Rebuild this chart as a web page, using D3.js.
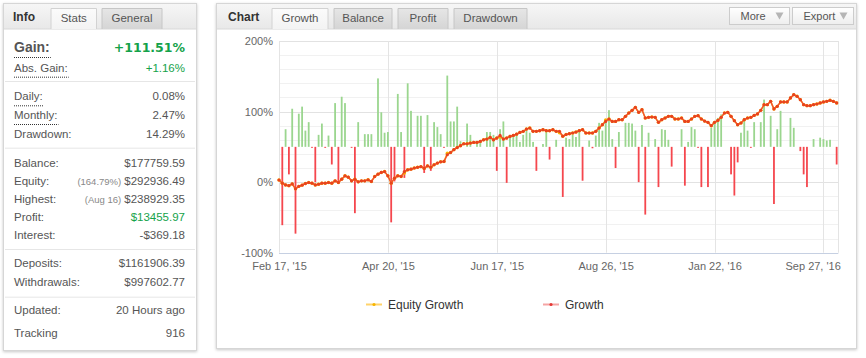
<!DOCTYPE html>
<html>
<head>
<meta charset="utf-8">
<script src="https://cdn.jsdelivr.net/npm/d3@7"></script>
<style>
  body { margin: 0; background: #fff; }
  svg text { font-family: "Liberation Sans", Arial, sans-serif; }
</style>
</head>
<body>
<div id="chart"></div>
<script>
// ---- stats panel ----
const statLabels = ["Gain:", "Abs. Gain:", "Daily:", "Monthly:", "Drawdown:", "Balance:", "Equity:", "Highest:",
  "Profit:", "Interest:", "Deposits:", "Withdrawals:", "Updated:", "Tracking"];
const statValues = ["+111.51%", "+1.16%", "0.08%", "2.47%", "14.29%", "$177759.59", "$292936.49", "$238929.35",
  "$13455.97", "-$369.18", "$1161906.39", "$997602.77", "20 Hours ago", "916"];
const statNotes = ["", "", "", "", "", "", "(164.79%)", "(Aug 16)", "", "", "", "", "", ""];
const infoTabs = ["Stats", "General"];

// ---- chart ----
const chartTabs = ["Growth", "Balance", "Profit", "Drawdown"];
const chartButtons = ["More", "Export"];
const xTickSlots = [0, 33, 66, 99, 132, 165];
const xTickLabels = ["Feb 17, '15", "Apr 20, '15", "Jun 17, '15", "Aug 26, '15", "Jan 22, '16", "Sep 27, '16"];
const yTicks = [-100, 0, 100, 200];
const seriesNames = ["Equity Growth", "Growth"];

// growth (%) per trade slot
const growth = [
  3, -1.5, -4, -5, -2.5, -9.5, -6, -4.3, -2, -0.5,
  -1.5, -4, -3, -1.5, -1.5, -0.5, -1.5, 1.8, -0.5, 4.2,
  9, 7, 1.8, 4.2, 0.4, 1.8, 1.8, 3.3, 1, 8,
  11.3, 13.7, 15, 9, -1.5, 5.6, 9, 8, 15, 17.5,
  18.4, 20, 21, 22, 19.4, 23, 21, 24.6, 27, 28.8,
  29.3, 38.8, 42, 46, 49, 51.6, 54.4, 54.4, 55.4, 56.3,
  56.3, 57.7, 60, 61, 63.4, 60, 62.5, 66.2, 61, 62.5,
  64.8, 66.2, 68, 70.5, 72, 75.2, 76.7, 72, 72, 72.9,
  74.3, 72.9, 72.9, 74.3, 72, 72, 65, 67.5, 68.6, 69.6,
  71, 72.9, 74.3, 69.6, 69.6, 69.6, 72, 76.7, 81.4, 86.1,
  89.5, 86.1, 86.1, 88.5, 88.5, 93.2, 98, 101.7, 106, 98.9,
  102.7, 90.9, 91.8, 92.3, 91.8, 84.8, 88.5, 90.9, 93.2, 93.2,
  89.5, 89.5, 90.9, 86.1, 86.1, 89.5, 93.2, 94.2, 89.5, 86.5,
  84.7, 80, 84.7, 87.5, 91.8, 98, 98.9, 93.2, 87.1, 81.4,
  83.8, 88.5, 90.9, 91.8, 94.6, 96.6, 101.7, 109.8, 109.8, 114.5,
  103.7, 107.4, 113.6, 113.6, 113.6, 119.3, 124, 121.6, 116.9, 109.8,
  108.4, 108.4, 109.8, 110.7, 112.2, 113.6, 114.5, 116, 114.5, 112.2
];
// equity growth: slots where it differs from growth
const equityDiff = [[38, 13], [51, 41], [67, 64], [85, 70], [99, 88]];
// daily result bars [slot, value]
const dailyBars = [
  [1, -111], [2, 25], [3, -39], [4, 54], [5, -123], [6, 47], [7, 57], [8, 23], [9, 35], [10, -1],
  [11, -50], [12, 17], [13, 33], [14, -1], [15, 16], [16, -25], [17, 62], [18, -52], [19, 71], [20, 62],
  [22, -1], [23, -94], [24, 35], [26, 18], [27, 18], [28, 18], [30, 97], [31, 49], [32, 20], [33, 21],
  [34, -107], [35, -49], [36, 75], [37, 21], [38, -44], [39, 90], [40, 51], [42, 44], [43, 44], [44, -37],
  [45, 45], [46, -34], [47, 35], [48, 28], [49, 18], [50, -1], [51, 101], [52, 36], [53, 36], [54, 57],
  [55, 8], [57, 33], [58, 17], [60, 6], [61, 6], [63, 21], [64, 21], [65, 17], [66, -34], [67, 25],
  [68, 36], [69, -51], [70, 17], [71, 17], [72, 17], [73, 7], [74, 17], [75, 23], [76, 20], [77, 7],
  [78, -34], [80, 4], [81, 25], [82, -18], [84, 10], [86, -71], [87, 13], [88, 11], [89, 17], [90, 14],
  [91, 21], [92, -48], [94, 9], [95, -2], [96, 16], [97, 34], [98, 23], [99, 36], [100, 52], [101, 11],
  [102, -30], [103, 21], [105, 34], [106, 34], [107, 33], [108, 23], [109, -50], [110, 31], [111, -96], [112, 20],
  [114, 11], [115, -57], [116, 25], [117, 24], [118, 10], [119, -28], [122, 25], [123, -55], [124, 7], [125, 28],
  [126, 25], [127, -1], [128, -57], [130, -57], [131, 27], [132, 34], [133, 41], [134, 46], [137, -39], [138, -69],
  [139, -22], [140, 20], [141, 41], [142, 23], [143, -1], [144, 35], [146, 35], [147, 67], [149, 44], [150, -81],
  [151, 25], [152, 51], [155, 41], [156, 27], [158, -6], [159, -39], [160, -57], [162, 11], [164, 13], [165, 11],
  [166, 9], [167, 10], [169, -25]
];

const svg = d3.select("#chart").append("svg")
    .attr("width", 866)
    .attr("height", 358);

const defs = svg.append("defs");
const shadow = defs.append("filter").attr("id", "shadow")
    .attr("x", "-5%").attr("y", "-5%").attr("width", "110%").attr("height", "110%");
shadow.append("feDropShadow")
    .attr("dx", 0).attr("dy", 1).attr("stdDeviation", 1.5)
    .attr("flood-color", "#000").attr("flood-opacity", 0.22);

function grad(id, top, bottom) {
    const g = defs.append("linearGradient").attr("id", id)
        .attr("x1", 0).attr("y1", 0).attr("x2", 0).attr("y2", 1);
    g.append("stop").attr("offset", "0%").attr("stop-color", top);
    g.append("stop").attr("offset", "100%").attr("stop-color", bottom);
}
grad("hdr", "#f6f6f6", "#e8e8e8");
grad("tabOff", "#e6e6e6", "#d5d5d5");
grad("tabOn", "#fbfbfb", "#f3f3f3");
grad("btn", "#ffffff", "#eeeeee");

// tab strip helper
function drawTab(g, x0, x1, label, active) {
    g.append("path")
        .attr("d", `M${x0},29 V8.5 H${x1} V29`)
        .attr("fill", active ? "url(#tabOn)" : "url(#tabOff)")
        .attr("stroke", active ? "#d2d2d2" : "#c6c6c6");
    g.append("text")
        .attr("x", (x0 + x1) / 2).attr("y", 21.5)
        .attr("text-anchor", "middle")
        .style("font-size", "11.5px")
        .attr("fill", "#555")
        .text(label);
}

// ================= left info panel =================
const info = svg.append("g");
info.append("rect")
    .attr("x", 3.5).attr("y", 3.5).attr("width", 193).attr("height", 347)
    .attr("fill", "#fff").attr("stroke", "#d6d6d6")
    .attr("filter", "url(#shadow)");
info.append("rect")
    .attr("x", 4).attr("y", 4).attr("width", 192).attr("height", 25)
    .attr("fill", "url(#hdr)");
info.append("line")
    .attr("x1", 4).attr("x2", 196).attr("y1", 29).attr("y2", 29)
    .attr("stroke", "#d8d8d8");
info.append("text")
    .attr("x", 13).attr("y", 20.5)
    .style("font-size", "12px").style("font-weight", "bold")
    .attr("fill", "#333")
    .text("Info");
const infoTabX = [[51, 96.5], [102, 162]];
infoTabs.forEach((t, i) => drawTab(info, infoTabX[i][0], infoTabX[i][1], t, i === 0));

const rowY = [52, 71.7, 100.3, 119, 137.7, 166.7, 184.7, 202.7, 220.7, 238.7, 267.3, 285.7, 314.3, 337.3];
const greenRows = new Set(["Gain:", "Abs. Gain:", "Profit:"]);
const dottedRows = new Set(["Gain:", "Abs. Gain:", "Daily:", "Monthly:"]);

[81, 147.7, 249, 296.7].forEach(yy => {
    info.append("line")
        .attr("x1", 5).attr("x2", 195).attr("y1", yy + 0.5).attr("y2", yy + 0.5)
        .attr("stroke", "#e6e6e6");
});

statLabels.forEach((lab, i) => {
    const big = i === 0;
    const lt = info.append("text")
        .attr("x", 14).attr("y", rowY[i])
        .style("font-size", big ? "14px" : "11.5px")
        .style("font-weight", big ? "bold" : "normal")
        .attr("fill", "#555")
        .text(lab);
    if (dottedRows.has(lab)) {
        const w = lt.node().getComputedTextLength();
        info.append("line")
            .attr("x1", 14).attr("x2", 14 + w + 1)
            .attr("y1", rowY[i] + 5.5).attr("y2", rowY[i] + 5.5)
            .attr("stroke", "#333").attr("stroke-dasharray", "1,1");
    }
    const vt = info.append("text")
        .attr("x", 185).attr("y", rowY[i])
        .attr("text-anchor", "end")
        .style("font-family", big ? "'DejaVu Sans', sans-serif" : null)
        .style("font-size", big ? "12.5px" : "11.5px")
        .style("font-weight", big ? "bold" : "normal")
        .attr("fill", greenRows.has(lab) ? "#14a24a" : "#555")
        .text(statValues[i]);
    if (statNotes[i]) {
        const w = vt.node().getComputedTextLength();
        info.append("text")
            .attr("x", 185 - w - 3).attr("y", rowY[i])
            .attr("text-anchor", "end")
            .style("font-size", "9.5px")
            .attr("fill", "#888")
            .text(statNotes[i]);
    }
});

// ================= chart panel =================
const panel = svg.append("g");
panel.append("rect")
    .attr("x", 216.5).attr("y", 3.5).attr("width", 640).attr("height", 345)
    .attr("fill", "#fff").attr("stroke", "#d6d6d6")
    .attr("filter", "url(#shadow)");
panel.append("rect")
    .attr("x", 217).attr("y", 4).attr("width", 639).attr("height", 25)
    .attr("fill", "url(#hdr)");
panel.append("line")
    .attr("x1", 217).attr("x2", 856).attr("y1", 29).attr("y2", 29)
    .attr("stroke", "#d8d8d8");
panel.append("text")
    .attr("x", 228).attr("y", 20.5)
    .style("font-size", "12px").style("font-weight", "bold")
    .attr("fill", "#333")
    .text("Chart");
const chartTabX = [[272, 328], [334, 392], [398, 448], [454, 527]];
chartTabs.forEach((t, i) => drawTab(panel, chartTabX[i][0], chartTabX[i][1], t, i === 0));

const btnX = [[729.5, 789.5], [792.5, 853.5]];
chartButtons.forEach((b, i) => {
    const [x0, x1] = btnX[i];
    panel.append("rect")
        .attr("x", x0).attr("y", 7.5).attr("width", x1 - x0).attr("height", 17)
        .attr("fill", "url(#btn)").attr("stroke", "#cccccc");
    panel.append("text")
        .attr("x", x0 + 11).attr("y", 20)
        .style("font-size", "11px")
        .attr("fill", "#555")
        .text(b);
    panel.append("path")
        .attr("d", `M${x1 - 14},12.5 h8 l-4,7 z`)
        .attr("fill", "#b5b5b5");
});

// ---- plot ----
const plotL = 279, plotR = 838.3, plotT = 41, plotB = 252.7;
const x = d3.scaleLinear().domain([0, 169.5]).range([plotL, plotR]);
const y = d3.scaleLinear().domain([-100, 200]).range([plotB, plotT]);
const yBar = d3.scaleLinear().domain([-150, 150]).range([plotB, plotT]);

const plot = svg.append("g");

// horizontal grid, 20% steps
plot.selectAll(".hgrid")
    .data(d3.range(-80, 201, 20))
    .enter().append("line")
        .attr("class", "hgrid")
        .attr("x1", plotL).attr("x2", plotR)
        .attr("y1", d => Math.round(y(d)) + 0.5).attr("y2", d => Math.round(y(d)) + 0.5)
        .attr("stroke", d => d % 100 === 0 ? "#e2e2e2" : "#f1f1f1");

// vertical grid at ticks + right border
plot.selectAll(".vgrid")
    .data(xTickSlots.concat([169.5]))
    .enter().append("line")
        .attr("class", "vgrid")
        .attr("x1", d => Math.round(x(d)) + 0.5).attr("x2", d => Math.round(x(d)) + 0.5)
        .attr("y1", plotT).attr("y2", plotB)
        .attr("stroke", "#e4e4e4");

// x axis line
plot.append("line")
    .attr("x1", plotL).attr("x2", plotR)
    .attr("y1", Math.round(plotB) + 0.5).attr("y2", Math.round(plotB) + 0.5)
    .attr("stroke", "#c6d0e2");

// bars
plot.selectAll(".bar")
    .data(dailyBars)
    .enter().append("rect")
        .attr("class", "bar")
        .attr("x", d => x(d[0]) - 0.9)
        .attr("width", 1.8)
        .attr("y", d => yBar(Math.max(0, d[1])))
        .attr("height", d => Math.max(1, Math.abs(yBar(d[1]) - yBar(0))))
        .attr("fill", d => d[1] >= 0 ? "#9bd68f" : "#f5474e");

// lines
const equity = growth.map((v, i) => {
    const o = equityDiff.find(e => e[0] === i);
    return o ? o[1] : v;
});
const line = d3.line().x((d, i) => x(i)).y(d => y(d));

plot.append("path")
    .datum(equity)
    .attr("d", line)
    .attr("fill", "none")
    .attr("stroke", "#ffc531")
    .attr("stroke-width", 1.5);
plot.selectAll(".eqdot")
    .data(equity)
    .enter().append("circle")
        .attr("class", "eqdot")
        .attr("cx", (d, i) => x(i)).attr("cy", d => y(d))
        .attr("r", 1.7)
        .attr("fill", "#f7b500");

plot.append("path")
    .datum(growth)
    .attr("d", line)
    .attr("fill", "none")
    .attr("stroke", "#f2552c")
    .attr("stroke-width", 1.5);
plot.selectAll(".gdot")
    .data(growth)
    .enter().append("circle")
        .attr("class", "gdot")
        .attr("cx", (d, i) => x(i)).attr("cy", d => y(d))
        .attr("r", 1.6)
        .attr("fill", "#e8421f");

// y axis labels
svg.append("g")
    .attr("transform", `translate(${plotL},0)`)
    .call(d3.axisLeft(y).tickValues(yTicks).tickFormat(d => `${d}%`).tickSize(0).tickPadding(6))
    .call(g => g.select(".domain").remove())
    .call(g => g.selectAll("text")
        .attr("fill", "#666")
        .style("font-family", "'Liberation Sans', Arial, sans-serif")
        .style("font-size", "11px"));

// x axis labels
const xAxis = svg.append("g")
    .attr("transform", `translate(0,${plotB})`)
    .call(d3.axisBottom(x).tickValues(xTickSlots)
        .tickFormat((d, i) => xTickLabels[i]).tickSize(0).tickPadding(10))
    .call(g => g.select(".domain").remove())
    .call(g => g.selectAll("text")
        .attr("fill", "#666")
        .style("font-family", "'Liberation Sans', Arial, sans-serif")
        .style("font-size", "11px"));
// keep last label inside the plot
xAxis.selectAll(".tick").each(function(d) {
    const t = d3.select(this).select("text");
    const w = t.node().getComputedTextLength();
    const over = x(d) + w / 2 - (plotR + 2);
    if (over > 0) t.attr("x", -over);
});

// legend
const legend = svg.append("g");
const legX = [366, 543];
const legLine = ["#ffd36a", "#f5a5a5"];
const legDot = ["#f7b500", "#e53935"];
seriesNames.forEach((name, i) => {
    legend.append("line")
        .attr("x1", legX[i]).attr("x2", legX[i] + 16)
        .attr("y1", 304.5).attr("y2", 304.5)
        .attr("stroke", legLine[i]).attr("stroke-width", 2);
    legend.append("circle")
        .attr("cx", legX[i] + 8).attr("cy", 304.5).attr("r", 1.6)
        .attr("fill", legDot[i]);
    legend.append("text")
        .attr("x", legX[i] + 22).attr("y", 308.5)
        .style("font-size", "12px")
        .attr("fill", "#333")
        .text(name);
});
</script>
</body>
</html>
